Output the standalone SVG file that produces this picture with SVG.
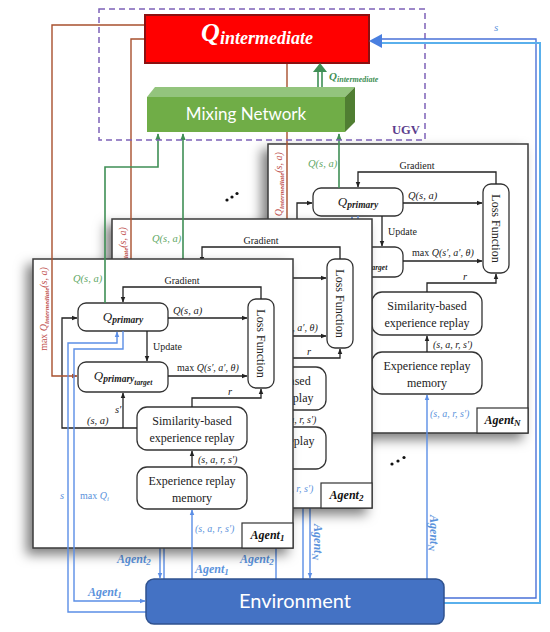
<svg xmlns="http://www.w3.org/2000/svg" width="550" height="632" viewBox="0 0 550 632">
<defs>
<style>
.panel{fill:#fff;stroke:#3a3a3a;stroke-width:1.5}
.box{fill:#fff;stroke:#333;stroke-width:1.3}
.tag{fill:#fff;stroke:#333;stroke-width:1.2}
.ln{fill:none;stroke:#222;stroke-width:1.3}
.gl{fill:none;stroke:#3f8f55;stroke-width:1.6}
.bl{fill:none;stroke:#5b8ee6;stroke-width:1.4}
.br{fill:none;stroke:#a8502e;stroke-width:1.4}
.sf{font-family:"Liberation Serif","Times New Roman",serif;fill:#222}
.mi{font-family:"Liberation Serif","Times New Roman",serif;font-style:italic;fill:#222}
.bi{font-family:"Liberation Serif","Times New Roman",serif;font-style:italic;font-weight:bold}
.gt{fill:#5fa866}
.bt{fill:#5b93dc}
.rt{fill:#c0504d}
.sans{font-family:Lato,"Open Sans",sans-serif;fill:#fff}
</style>
<filter id="sh" x="-15%" y="-10%" width="130%" height="130%"><feDropShadow dx="-6" dy="6" stdDeviation="6" flood-color="#000" flood-opacity="0.5"/></filter>
<marker id="ak" viewBox="0 0 10 10" refX="9" refY="5" markerWidth="6" markerHeight="6" markerUnits="userSpaceOnUse" orient="auto"><path d="M0,1L10,5L0,9z" fill="#222"/></marker>
<marker id="ag" viewBox="0 0 10 10" refX="9" refY="5" markerWidth="7" markerHeight="7" markerUnits="userSpaceOnUse" orient="auto"><path d="M0,1L10,5L0,9z" fill="#3f8f55"/></marker>
<marker id="ab" viewBox="0 0 10 10" refX="9" refY="5" markerWidth="6" markerHeight="6" markerUnits="userSpaceOnUse" orient="auto"><path d="M0,1L10,5L0,9z" fill="#5b8ee6"/></marker>
<marker id="abr" viewBox="0 0 10 10" refX="9" refY="5" markerWidth="6" markerHeight="6" markerUnits="userSpaceOnUse" orient="auto"><path d="M0,1L10,5L0,9z" fill="#a8502e"/></marker>
</defs>
<rect width="550" height="632" fill="#fff"/>

<!-- Agent N -->
<g id="agentN-layer">
<g id="agentN" transform="translate(268,144)">
 <rect class="panel" width="260" height="289" filter="url(#sh)"/>
 <g id="aN-qp"><rect class="box" x="45" y="44" width="90" height="28" rx="8"/><text class="mi" x="90" y="62" text-anchor="middle" font-size="13">Q<tspan font-size="9.5" font-weight="bold" dy="2">primary</tspan></text></g>
 <g id="aN-qt"><rect class="box" x="45" y="103" width="90" height="30" rx="8"/><text class="mi" x="90" y="121" text-anchor="middle" font-size="13">Q<tspan font-size="9.5" font-weight="bold" dy="2">primary</tspan><tspan font-size="7.5" font-weight="bold" dy="2.5">target</tspan></text></g>
 <g id="aN-loss"><rect class="box" x="215" y="40" width="26" height="89" rx="8"/><text class="sf" font-size="12" text-anchor="middle" transform="translate(224,84.5) rotate(90)">Loss Function</text></g>
 <g id="aN-sim"><rect class="box" x="104" y="148" width="110" height="43" rx="10"/><text class="sf" font-size="12" text-anchor="middle" x="159" y="166">Similarity-based</text><text class="sf" font-size="12" text-anchor="middle" x="159" y="183">experience replay</text></g>
 <g id="aN-mem"><rect class="box" x="104" y="208" width="110" height="42" rx="10"/><text class="sf" font-size="12" text-anchor="middle" x="159" y="226">Experience replay</text><text class="sf" font-size="12" text-anchor="middle" x="159" y="243">memory</text></g>
 <g id="aN-tag"><rect class="tag" x="209" y="264" width="51" height="25"/><text class="bi" fill="#111" font-size="12" x="234.5" y="280" text-anchor="middle">Agent<tspan font-size="9" dy="2">N</tspan></text></g>
 <g id="aN-edges" class="connectors">
  <path class="ln" d="M228,40V28H90V43" marker-end="url(#ak)"/>
  <path class="ln" d="M135,59H214" marker-end="url(#ak)"/>
  <path class="ln" d="M114,72V102" marker-end="url(#ak)"/>
  <path class="ln" d="M135,117H214" marker-end="url(#ak)"/>
  <path class="ln" d="M159,148V139H228V130" marker-end="url(#ak)"/>
  <path class="ln" d="M104,169H29V59H44" marker-end="url(#ak)"/>
  <path class="ln" d="M90,169V134" marker-end="url(#ak)"/>
  <path class="ln" d="M159,208V192" marker-end="url(#ak)"/>
 </g>
 <text class="sf" font-size="10" x="149" y="25" text-anchor="middle">Gradient</text>
 <text class="mi" font-size="10.5" x="140" y="55">Q(s, a)</text>
 <text class="sf" font-size="10" x="120" y="91">Update</text>
 <text class="sf" font-size="10" x="144" y="112">max <tspan font-style="italic">Q(s′, a′, θ)</tspan></text>
 <text class="mi" font-size="10.5" x="195" y="136">r</text>
 <text class="mi" font-size="10" x="165" y="204">(s, a, r, s′)</text>
 <text class="mi bt" font-size="10" x="162" y="273">(s, a, r, s′)</text>
 <text class="mi gt" font-size="10.5" x="40" y="23">Q(s, a)</text>
 <text class="sf rt" font-size="10" text-anchor="middle" transform="translate(13.5,50) rotate(-90)">max <tspan font-style="italic">Q</tspan><tspan font-style="italic" font-weight="bold" font-size="7" dy="2">intermediate</tspan><tspan font-style="italic" dy="-2">(s, a)</tspan></text>
</g>
<g id="agentN-links" class="connectors">
 <path class="gl" d="M339,188V134" marker-end="url(#ag)"/>
 <path class="br" d="M287,63V261H312" marker-end="url(#abr)"/>
 <path class="bl" d="M303,579V228H352V217" marker-end="url(#ab)"/>
 <path class="bl" d="M358,216V234H310V578" marker-end="url(#ab)"/>
 <path class="bl" d="M427,579V395" marker-end="url(#ab)"/>
 <text class="bi bt" font-size="12" text-anchor="middle" transform="translate(314,542) rotate(90)">Agent<tspan font-size="9" dy="2">N</tspan></text>
 <text class="bi bt" font-size="12" text-anchor="middle" transform="translate(430,533) rotate(90)">Agent<tspan font-size="9" dy="2">N</tspan></text>
</g>
</g>

<!-- Agent 2 -->
<g id="agent2-layer">
<g id="agent2" transform="translate(112,219)">
 <rect class="panel" width="260" height="289" filter="url(#sh)"/>
 <g id="a2-qp"><rect class="box" x="45" y="44" width="90" height="28" rx="8"/></g>
 <g id="a2-qt"><rect class="box" x="45" y="103" width="90" height="30" rx="8"/></g>
 <g id="a2-loss"><rect class="box" x="215" y="40" width="26" height="89" rx="8"/><text class="sf" font-size="12" text-anchor="middle" transform="translate(224,84.5) rotate(90)">Loss Function</text></g>
 <g id="a2-sim"><rect class="box" x="104" y="148" width="110" height="43" rx="10"/><text class="sf" font-size="12" text-anchor="middle" x="159" y="166">Similarity-based</text><text class="sf" font-size="12" text-anchor="middle" x="159" y="183">experience replay</text></g>
 <g id="a2-mem"><rect class="box" x="104" y="208" width="110" height="42" rx="10"/><text class="sf" font-size="12" text-anchor="middle" x="159" y="226">Experience replay</text><text class="sf" font-size="12" text-anchor="middle" x="159" y="243">memory</text></g>
 <g id="a2-tag"><rect class="tag" x="209" y="264" width="51" height="25"/><text class="bi" fill="#111" font-size="12" x="234.5" y="280" text-anchor="middle">Agent<tspan font-size="9" dy="2">2</tspan></text></g>
 <g id="a2-edges" class="connectors">
  <path class="ln" d="M228,40V28H90V43" marker-end="url(#ak)"/>
  <path class="ln" d="M135,59H214" marker-end="url(#ak)"/>
  <path class="ln" d="M114,72V102" marker-end="url(#ak)"/>
  <path class="ln" d="M135,117H214" marker-end="url(#ak)"/>
  <path class="ln" d="M159,148V139H228V130" marker-end="url(#ak)"/>
  <path class="ln" d="M104,169H29V59H44" marker-end="url(#ak)"/>
  <path class="ln" d="M90,169V134" marker-end="url(#ak)"/>
  <path class="ln" d="M159,208V192" marker-end="url(#ak)"/>
 </g>
 <text class="sf" font-size="10" x="149" y="25" text-anchor="middle">Gradient</text>
 <text class="sf" font-size="10" x="144" y="112">max <tspan font-style="italic">Q(s′, a′, θ)</tspan></text>
 <text class="mi" font-size="10.5" x="195" y="136">r</text>
 <text class="mi" font-size="10" x="165" y="204">(s, a, r, s′)</text>
 <text class="mi bt" font-size="10" x="162" y="273">(s, a, r, s′)</text>
 <text class="mi gt" font-size="10.5" x="40" y="23">Q(s, a)</text>
 <text class="sf rt" font-size="10" text-anchor="middle" transform="translate(13.5,50) rotate(-90)">max <tspan font-style="italic">Q</tspan><tspan font-style="italic" font-weight="bold" font-size="7" dy="2">intermediate</tspan><tspan font-style="italic" dy="-2">(s, a)</tspan></text>
</g>
<g id="agent2-links" class="connectors">
 <path class="gl" d="M183,263V134" marker-end="url(#ag)"/>
 <path class="br" d="M145,39H131V336H156" marker-end="url(#abr)"/>
 <path class="bl" d="M164,579V303H196V292" marker-end="url(#ab)"/>
 <path class="bl" d="M202,291V309H160V578" marker-end="url(#ab)"/>
 <path class="bl" d="M276,579V470" marker-end="url(#ab)"/>
 <text class="bi bt" font-size="12" x="117" y="563">Agent<tspan font-size="9" dy="2">2</tspan></text>
 <text class="bi bt" font-size="12" x="240" y="563">Agent<tspan font-size="9" dy="2">2</tspan></text>
</g>
</g>

<!-- Agent 1 -->
<g id="agent1-layer">
<g id="agent1" transform="translate(33,259)">
 <rect class="panel" width="260" height="289" filter="url(#sh)"/>
 <g id="a1-qp"><rect class="box" x="45" y="44" width="90" height="28" rx="8"/><text class="mi" x="90" y="62" text-anchor="middle" font-size="13">Q<tspan font-size="9.5" font-weight="bold" dy="2">primary</tspan></text></g>
 <g id="a1-qt"><rect class="box" x="45" y="103" width="90" height="30" rx="8"/><text class="mi" x="90" y="121" text-anchor="middle" font-size="13">Q<tspan font-size="9.5" font-weight="bold" dy="2">primary</tspan><tspan font-size="7.5" font-weight="bold" dy="2.5">target</tspan></text></g>
 <g id="a1-loss"><rect class="box" x="215" y="40" width="26" height="89" rx="8"/><text class="sf" font-size="12" text-anchor="middle" transform="translate(224,84.5) rotate(90)">Loss Function</text></g>
 <g id="a1-sim"><rect class="box" x="104" y="148" width="110" height="43" rx="10"/><text class="sf" font-size="12" text-anchor="middle" x="159" y="166">Similarity-based</text><text class="sf" font-size="12" text-anchor="middle" x="159" y="183">experience replay</text></g>
 <g id="a1-mem"><rect class="box" x="104" y="208" width="110" height="42" rx="10"/><text class="sf" font-size="12" text-anchor="middle" x="159" y="226">Experience replay</text><text class="sf" font-size="12" text-anchor="middle" x="159" y="243">memory</text></g>
 <g id="a1-tag"><rect class="tag" x="209" y="264" width="51" height="25"/><text class="bi" fill="#111" font-size="12" x="234.5" y="280" text-anchor="middle">Agent<tspan font-size="9" dy="2">1</tspan></text></g>
 <g id="a1-edges" class="connectors">
  <path class="ln" d="M228,40V28H90V43" marker-end="url(#ak)"/>
  <path class="ln" d="M135,59H214" marker-end="url(#ak)"/>
  <path class="ln" d="M114,72V102" marker-end="url(#ak)"/>
  <path class="ln" d="M135,117H214" marker-end="url(#ak)"/>
  <path class="ln" d="M159,148V139H228V130" marker-end="url(#ak)"/>
  <path class="ln" d="M104,169H29V59H44" marker-end="url(#ak)"/>
  <path class="ln" d="M90,169V134" marker-end="url(#ak)"/>
  <path class="ln" d="M159,208V192" marker-end="url(#ak)"/>
 </g>
 <text class="sf" font-size="10" x="149" y="25" text-anchor="middle">Gradient</text>
 <text class="mi" font-size="10.5" x="140" y="55">Q(s, a)</text>
 <text class="sf" font-size="10" x="120" y="91">Update</text>
 <text class="sf" font-size="10" x="144" y="112">max <tspan font-style="italic">Q(s′, a′, θ)</tspan></text>
 <text class="mi" font-size="10.5" x="195" y="136">r</text>
 <text class="mi" font-size="10.5" x="54" y="165">(s, a)</text>
 <text class="mi" font-size="10.5" x="82" y="154">s′</text>
 <text class="mi" font-size="10" x="165" y="204">(s, a, r, s′)</text>
 <text class="mi bt" font-size="10" x="162" y="273">(s, a, r, s′)</text>
 <text class="mi gt" font-size="10.5" x="40" y="23">Q(s, a)</text>
 <text class="sf rt" font-size="10" text-anchor="middle" transform="translate(13.5,50) rotate(-90)">max <tspan font-style="italic">Q</tspan><tspan font-style="italic" font-weight="bold" font-size="7" dy="2">intermediate</tspan><tspan font-style="italic" dy="-2">(s, a)</tspan></text>
</g>
<g id="agent1-links" class="connectors">
 <path class="gl" d="M105,303V167H158V134" marker-end="url(#ag)"/>
 <path class="br" d="M145,25H52V376H77" marker-end="url(#abr)"/>
 <path class="bl" d="M146,612H68V343H117V332" marker-end="url(#ab)"/>
 <path class="bl" d="M123,331V349H74V601H145" marker-end="url(#ab)"/>
 <path class="bl" d="M192,579V510" marker-end="url(#ab)"/>
 <text class="mi bt" font-size="10.5" x="60" y="499">s</text>
 <text class="sf bt" font-size="10" x="80" y="499">max <tspan font-style="italic">Q</tspan><tspan font-style="italic" font-size="7" dy="2">i</tspan></text>
 <text class="bi bt" font-size="12" x="88" y="596">Agent<tspan font-size="9" dy="2">1</tspan></text>
 <text class="bi bt" font-size="12" x="195" y="573">Agent<tspan font-size="9" dy="2">1</tspan></text>
</g>
</g>

<g id="ellipsis" fill="#111">
 <circle cx="227" cy="200" r="1.6"/><circle cx="232" cy="197" r="1.6"/><circle cx="237" cy="193.5" r="1.6"/>
 <circle cx="392" cy="464" r="1.6"/><circle cx="398" cy="461" r="1.6"/><circle cx="404" cy="457.5" r="1.6"/>
</g>

<g id="ugv">
 <rect x="99" y="9" width="326" height="131" fill="none" stroke="#7d62b8" stroke-width="1.5" stroke-dasharray="6 4"/>
 <text x="392" y="134" font-family="'Liberation Serif',serif" font-weight="bold" font-size="12.5" fill="#5b3c8c">UGV</text>
</g>

<g id="mixing-network">
 <polygon points="147,97 155,87 355,87 345,97" fill="#93c47d"/>
 <rect x="147" y="97" width="198" height="35" fill="#70ad47"/>
 <polygon points="345,97 355,87 355,122 345,132" fill="#507e32"/>
 <text class="sans" x="246" y="120" font-size="17" text-anchor="middle">Mixing Network</text>
</g>

<g id="q-intermediate">
 <rect x="145" y="15" width="224" height="48" fill="#ff0000" stroke="#8b1010" stroke-width="2"/>
 <text class="bi" x="257" y="41" text-anchor="middle" font-size="26" fill="#fff">Q<tspan font-size="18" dy="3">intermediate</tspan></text>
</g>

<g id="connectors">
 <path d="M318,87V70M322,87V70" stroke="#3f8f55" stroke-width="1.6" fill="none"/>
 <polygon points="313,72 320,63 327,72" fill="#3f8f55"/>
 <text class="bi" x="329" y="80" font-size="11" fill="#3f8f55">Q<tspan font-size="8" dy="2">intermediate</tspan></text>
 <path d="M444,598H536V39H380" fill="none" stroke="#4a72d8" stroke-width="1.4"/>
 <path d="M444,603H540V43H380" fill="none" stroke="#5ab0ec" stroke-width="2"/>
 <polygon points="369,41 382,34 382,48" fill="#4a7fe0"/>
 <text class="mi bt" x="494" y="31" font-size="11">s</text>
</g>

<g id="environment">
 <rect x="146" y="579" width="298" height="45" rx="8" fill="#4472c4" stroke="#2f528f" stroke-width="1.5"/>
 <text class="sans" x="295" y="608" font-size="20" text-anchor="middle">Environment</text>
</g>
</svg>
